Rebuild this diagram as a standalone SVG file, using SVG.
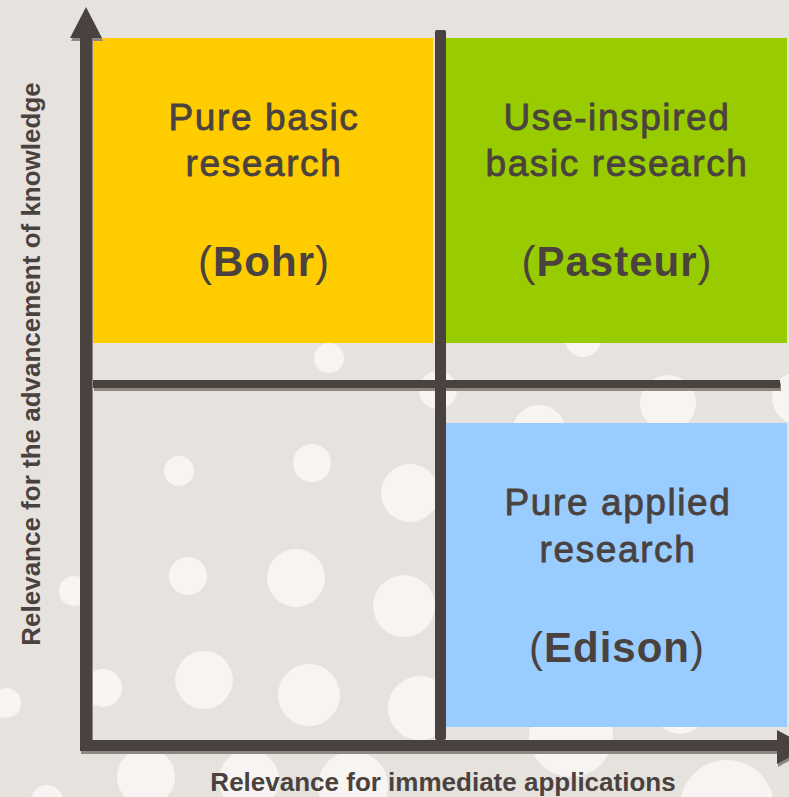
<svg xmlns="http://www.w3.org/2000/svg" width="789" height="797" viewBox="0 0 789 797">
  <defs>
    <style>
      .bg { fill: #e6e3de; }
      .dot { fill: #f7f4f2; }
      .ink { fill: #4a423e; }
      .shadow { fill: #8e8782; }
      .t { font-family: "Liberation Sans", Arial, sans-serif; fill: #4a423e; text-anchor: middle; }
      .main { font-size: 37px; letter-spacing: 1.6px; stroke: #4a423e; stroke-width: 0.8px; }
      .name { font-size: 42px; letter-spacing: 1px; }
      .b { font-weight: bold; }
      .axis { font-size: 26px; font-weight: bold; }
    </style>
  </defs>
  <rect class="bg" x="0" y="0" width="789" height="797"/>
  <g id="dots">
    <circle class="dot" cx="329" cy="358" r="15"/>
    <circle class="dot" cx="438" cy="390" r="19"/>
    <circle class="dot" cx="583" cy="339" r="18"/>
    <circle class="dot" cx="668" cy="403" r="28"/>
    <circle class="dot" cx="798" cy="398" r="26"/>
    <circle class="dot" cx="539" cy="432" r="27"/>
    <circle class="dot" cx="179" cy="471" r="15"/>
    <circle class="dot" cx="312" cy="463" r="19"/>
    <circle class="dot" cx="410" cy="493" r="29"/>
    <circle class="dot" cx="188" cy="576" r="19"/>
    <circle class="dot" cx="296" cy="578" r="29"/>
    <circle class="dot" cx="404" cy="606" r="31"/>
    <circle class="dot" cx="74" cy="591" r="15"/>
    <circle class="dot" cx="103" cy="688" r="19"/>
    <circle class="dot" cx="204" cy="680" r="29"/>
    <circle class="dot" cx="309" cy="695" r="31"/>
    <circle class="dot" cx="420" cy="708" r="32"/>
    <circle class="dot" cx="6" cy="703" r="15"/>
    <circle class="dot" cx="146" cy="777" r="29"/>
    <circle class="dot" cx="249" cy="780" r="30"/>
    <circle class="dot" cx="353" cy="786" r="35"/>
    <circle class="dot" cx="47" cy="801" r="16"/>
    <circle class="dot" cx="571" cy="735" r="42"/>
    <circle class="dot" cx="680" cy="706" r="28"/>
    <circle class="dot" cx="727" cy="807" r="47"/>
  </g>
  <g id="bohr">
    <rect x="93" y="38" width="340" height="305" fill="#ffcc00"/>
    <text class="t main" x="264" y="130">Pure basic</text>
    <text class="t main" x="264" y="176">research</text>
    <text class="t name" x="264" y="276">(<tspan class="b">Bohr</tspan>)</text>
  </g>
  <g id="pasteur">
    <rect x="446" y="38" width="341" height="305" fill="#99cc00"/>
    <text class="t main" x="617" y="130">Use-inspired</text>
    <text class="t main" x="617" y="176">basic research</text>
    <text class="t name" x="617" y="276">(<tspan class="b">Pasteur</tspan>)</text>
  </g>
  <g id="edison">
    <rect x="446" y="423" width="341" height="304" fill="#99ccff"/>
    <text class="t main" x="618" y="515">Pure applied</text>
    <text class="t main" x="618" y="562">research</text>
    <text class="t name" x="617" y="662">(<tspan class="b">Edison</tspan>)</text>
  </g>
  <g id="connectors">
    <g class="shadow" transform="translate(1,3)">
      <rect x="80" y="38" width="12" height="712"/>
      <polygon points="70,38 102,38 86,7"/>
      <rect x="80" y="740" width="697" height="11"/>
      <polygon points="777,730 777,764 808,747"/>
      <rect x="93" y="380" width="687" height="8"/>
    </g>
    <g class="ink">
      <rect x="80" y="36" width="12" height="714"/>
      <polygon points="70,38 102,38 86,7"/>
      <rect x="80" y="740" width="697" height="11"/>
      <polygon points="777,730 777,764 808,747"/>
      <rect x="435" y="30" width="11" height="710" rx="2"/>
      <rect x="93" y="380" width="687" height="8"/>
    </g>
  </g>
  <g id="x-label">
    <text class="t axis" x="443" y="791">Relevance for immediate applications</text>
  </g>
  <g id="y-label">
    <text class="t axis" transform="translate(40,364) rotate(-90)">Relevance for the advancement of knowledge</text>
  </g>
</svg>
